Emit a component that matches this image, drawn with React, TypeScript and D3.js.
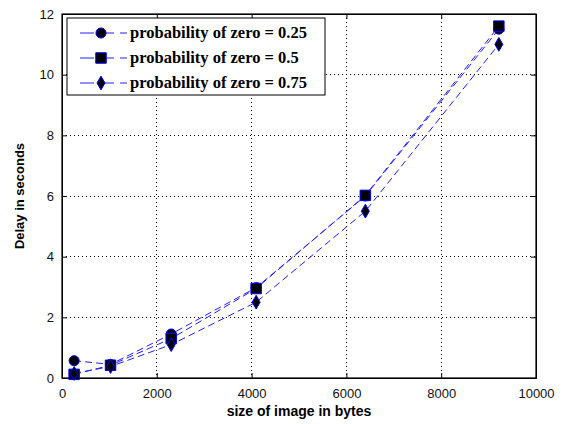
import React, { useRef, useEffect } from 'react';
import * as d3 from 'd3';

// image sizes (bytes) and delays (s)
const sizes = [256, 1024, 2304, 4096, 6400, 9216];
const delay025 = [0.57, 0.45, 1.45, 2.98, 6.0, 11.5];
const delay050 = [0.12, 0.42, 1.3, 2.95, 6.02, 11.6];
const delay075 = [0.15, 0.38, 1.1, 2.5, 5.5, 11.0];
const seriesNames = ['probability of zero = 0.25', 'probability of zero = 0.5', 'probability of zero = 0.75'];
const markerKinds = ['circle', 'square', 'diamond'];
const xTicks = [0, 2000, 4000, 6000, 8000, 10000];
const yTicks = [0, 2, 4, 6, 8, 10, 12];

const W = 564;
const H = 424;

const App = () => {
  const ref = useRef<SVGSVGElement>(null);

  useEffect(() => {
    const svg = d3.select(ref.current);
    svg.selectAll('*').remove();

    const margin = { top: 14, right: 28, bottom: 46, left: 62 };
    const innerW = W - margin.left - margin.right;
    const innerH = H - margin.top - margin.bottom;

    const x = d3.scaleLinear().domain([0, 10000]).range([0, innerW]);
    const y = d3.scaleLinear().domain([0, 12]).range([innerH, 0]);

    svg.append('rect').attr('width', W).attr('height', H).attr('fill', '#fff');

    const g = svg.append('g').attr('transform', `translate(${margin.left},${margin.top})`);

    // dotted grid
    g.selectAll('line.gx')
      .data(xTicks.slice(1, -1))
      .join('line')
      .attr('x1', d => x(d)).attr('x2', d => x(d))
      .attr('y1', 0).attr('y2', innerH)
      .attr('stroke', '#000').attr('stroke-width', 1)
      .attr('stroke-dasharray', '1,3').attr('shape-rendering', 'crispEdges');
    g.selectAll('line.gy')
      .data(yTicks.slice(1, -1))
      .join('line')
      .attr('x1', 0).attr('x2', innerW)
      .attr('y1', d => y(d)).attr('y2', d => y(d))
      .attr('stroke', '#000').attr('stroke-width', 1)
      .attr('stroke-dasharray', '1,3').attr('shape-rendering', 'crispEdges');

    // axes with inward ticks
    const tickFont = 'Liberation Sans, Arial, sans-serif';
    const plain = d3.format('d');
    const axB = g.append('g').attr('transform', `translate(0,${innerH})`)
      .call(d3.axisBottom(x).tickValues(xTicks).tickFormat(d => plain(d as number)).tickSizeInner(-5).tickSizeOuter(0).tickPadding(8));
    const axL = g.append('g')
      .call(d3.axisLeft(y).tickValues(yTicks).tickSizeInner(-5).tickSizeOuter(0).tickPadding(8));
    const axT = g.append('g')
      .call(d3.axisTop(x).tickValues(xTicks).tickSizeInner(-5).tickSizeOuter(0).tickFormat(() => ''));
    const axR = g.append('g').attr('transform', `translate(${innerW},0)`)
      .call(d3.axisRight(y).tickValues(yTicks).tickSizeInner(-5).tickSizeOuter(0).tickFormat(() => ''));
    [axB, axL, axT, axR].forEach(a => {
      a.select('.domain').attr('stroke', '#000');
      a.selectAll('line').attr('stroke', '#000');
      a.selectAll('text').attr('font-family', tickFont).attr('font-size', 13).attr('fill', '#111');
    });
    axB.selectAll('text').attr('dy', '0.95em');
    g.append('rect').attr('width', innerW).attr('height', innerH)
      .attr('fill', 'none').attr('stroke', '#000').attr('stroke-width', 1.2);

    const allSeries = [delay025, delay050, delay075];

    const symbolFor = (kind: string) =>
      kind === 'circle' ? d3.symbol(d3.symbolCircle, 80)
        : kind === 'square' ? d3.symbol(d3.symbolSquare, 110)
          : d3.symbol(d3.symbolDiamond, 55);

    const line = d3.line<number>().x((_, i) => x(sizes[i])).y(d => y(d));

    allSeries.forEach(vals => {
      g.append('path')
        .attr('d', line(vals))
        .attr('fill', 'none')
        .attr('stroke', '#2020ff')
        .attr('stroke-width', 1)
        .attr('stroke-dasharray', '7,4');
    });
    allSeries.forEach((vals, si) => {
      g.selectAll(`path.m${si}`)
        .data(vals)
        .join('path')
        .attr('transform', (d, i) => `translate(${x(sizes[i])},${y(d)})`)
        .attr('d', symbolFor(markerKinds[si])())
        .attr('fill', '#000')
        .attr('stroke', '#0000ff')
        .attr('stroke-width', 1);
    });

    // legend
    const lg = svg.append('g').attr('transform', 'translate(67,18)');
    lg.append('rect').attr('width', 258).attr('height', 77)
      .attr('fill', '#fff').attr('stroke', '#000').attr('stroke-width', 1);
    seriesNames.forEach((name, i) => {
      const ly = 15 + i * 25;
      lg.append('line').attr('x1', 13).attr('x2', 60).attr('y1', ly).attr('y2', ly)
        .attr('stroke', '#2020ff').attr('stroke-width', 1).attr('stroke-dasharray', '14,6');
      lg.append('path').attr('transform', `translate(34,${ly})`)
        .attr('d', symbolFor(markerKinds[i])())
        .attr('fill', '#000').attr('stroke', '#0000ff');
      lg.append('text').attr('x', 63).attr('y', ly + 5)
        .attr('font-family', 'Liberation Serif, Times New Roman, serif')
        .attr('font-weight', 'bold').attr('font-size', 16.5)
        .text(name);
    });

    // axis titles
    svg.append('text')
      .attr('x', margin.left + innerW / 2).attr('y', 416)
      .attr('text-anchor', 'middle')
      .attr('font-family', tickFont).attr('font-weight', 'bold').attr('font-size', 14)
      .text('size of image in bytes');
    svg.append('text')
      .attr('transform', `translate(24,${margin.top + innerH / 2}) rotate(-90)`)
      .attr('text-anchor', 'middle')
      .attr('font-family', tickFont).attr('font-weight', 'bold').attr('font-size', 13)
      .text('Delay in seconds');
  }, []);

  return <svg ref={ref} width={W} height={H} style={{ position: 'absolute', left: 0, top: 0 }} />;
};

export default App;
